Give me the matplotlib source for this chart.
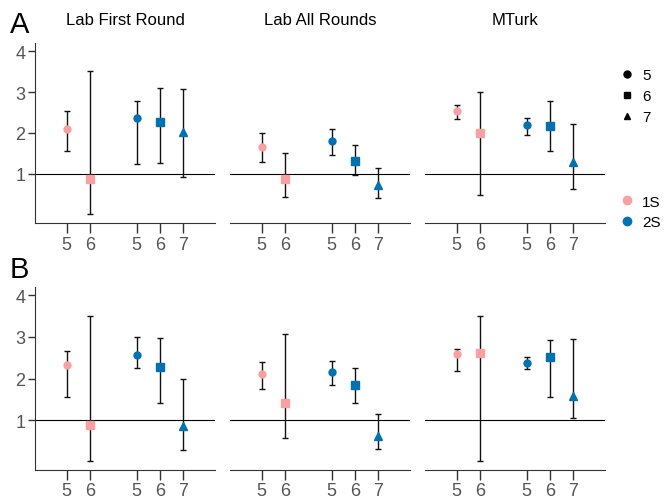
import matplotlib
matplotlib.use("Agg")
import matplotlib.pyplot as plt
from matplotlib.lines import Line2D

plt.rcParams['font.family'] = ['Liberation Sans', 'DejaVu Sans']

# panel titles and x categories
panels = ["Lab First Round", "Lab All Rounds", "MTurk"]
groups = ["1S", "1S", "2S", "2S", "2S"]
sizes = ["5", "6", "5", "6", "7"]
xpos = [1, 2, 4, 5, 6]

# row A: estimate, lower, upper per panel
a_mean = [[2.11, 0.87, 2.36, 2.27, 2.02],
          [1.65, 0.87, 1.81, 1.31, 0.74],
          [2.53, 2.00, 2.19, 2.17, 1.29]]
a_lo = [[1.56, 0.02, 1.25, 1.27, 0.92],
        [1.28, 0.43, 1.47, 0.98, 0.42],
        [2.34, 0.49, 1.96, 1.56, 0.63]]
a_hi = [[2.55, 3.51, 2.78, 3.09, 3.08],
        [2.00, 1.51, 2.09, 1.70, 1.15],
        [2.69, 3.00, 2.37, 2.78, 2.22]]

# row B
b_mean = [[2.33, 0.89, 2.57, 2.28, 0.86],
          [2.10, 1.42, 2.16, 1.85, 0.61],
          [2.58, 2.62, 2.38, 2.52, 1.58]]
b_lo = [[1.55, 0.01, 2.25, 1.40, 0.29],
        [1.75, 0.57, 1.85, 1.40, 0.30],
        [2.19, 0.01, 2.23, 1.56, 1.04]]
b_hi = [[2.66, 3.50, 3.00, 2.97, 1.99],
        [2.40, 3.07, 2.43, 2.26, 1.14],
        [2.72, 3.50, 2.52, 2.92, 2.96]]

colors = {"1S": "#F9A0A0", "2S": "#0072B2"}
markers = {"5": "o", "6": "s", "7": "^"}
msize = {"5": 5, "6": 5.5, "7": 6}

fig = plt.figure(figsize=(6.66, 5.02), dpi=100)

lefts = [35 / 666, 230 / 666, 425 / 666]
w = 180 / 666
rows = [(1 - 224 / 502, 180 / 502, a_mean, a_lo, a_hi),
        (1 - 471 / 502, 183 / 502, b_mean, b_lo, b_hi)]

for r, (bot, h, mean, lo, hi) in enumerate(rows):
    for p in range(3):
        ax = fig.add_axes([lefts[p], bot, w, h])
        ax.axhline(1, color="black", lw=0.8, zorder=1)
        for i in range(5):
            m = mean[p][i]
            ax.errorbar(xpos[i], m, yerr=[[m - lo[p][i]], [hi[p][i] - m]],
                        fmt="none", ecolor="#111111", elinewidth=1,
                        capsize=2.5, capthick=1, zorder=2)
            ax.plot(xpos[i], m, marker=markers[sizes[i]], ms=msize[sizes[i]],
                    color=colors[groups[i]], ls="none", zorder=3)
        ax.set_xlim(-0.35, 7.35)
        ax.set_ylim(-0.2, 4.2)
        ax.set_xticks(xpos)
        ax.set_xticklabels(sizes)
        for s in ["top", "right"]:
            ax.spines[s].set_visible(False)
        ax.spines["bottom"].set_color("#333333")
        ax.spines["left"].set_color("#333333")
        ax.tick_params(axis="x", length=7, width=1, color="#333333",
                       labelsize=13, labelcolor="#555555", pad=2)
        if p == 0:
            ax.set_yticks([1, 2, 3, 4])
            ax.tick_params(axis="y", length=5, width=1, color="#333333",
                           labelsize=13, labelcolor="#555555", pad=2)
        else:
            ax.spines["left"].set_visible(False)
            ax.set_yticks([])
        if r == 0:
            ax.set_title(panels[p], fontsize=12, pad=14)

fig.text(10 / 666, 1 - 25 / 502, "A", fontsize=21, va="center", ha="left")
fig.text(10 / 666, 1 - 270 / 502, "B", fontsize=21, va="center", ha="left")

shape_handles = [Line2D([], [], marker=markers[s], color="black", ls="none", ms=5)
                 for s in ["5", "6", "7"]]
fig.legend(shape_handles, ["5", "6", "7"], loc="center left",
           bbox_to_anchor=(604 / 666, 1 - 97 / 502), frameon=False,
           fontsize=11, handletextpad=0.4, labelspacing=0.45,
           handlelength=1.2)
col_handles = [Line2D([], [], marker="o", color=colors[g], ls="none", ms=6)
               for g in ["1S", "2S"]]
fig.legend(col_handles, ["1S", "2S"], loc="center left",
           bbox_to_anchor=(604 / 666, 1 - 213 / 502), frameon=False,
           fontsize=11, handletextpad=0.4, labelspacing=0.45,
           handlelength=1.2)

fig.savefig("out.png", dpi=100)
